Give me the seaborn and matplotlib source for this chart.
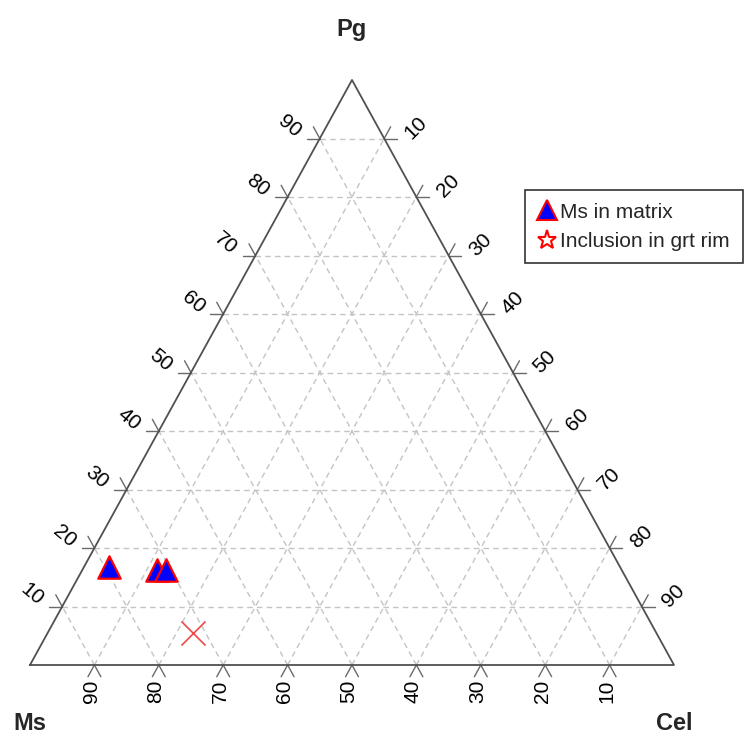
import numpy as np
import pandas as pd
import matplotlib
matplotlib.use('Agg')
import matplotlib.pyplot as plt
import seaborn as sns
from matplotlib.lines import Line2D

sns.set_theme(style='white')
plt.rcParams['font.family'] = ['Liberation Sans', 'DejaVu Sans']

# compositions (fractions)
ms = [0.794, 0.722, 0.708, 0.719]
pg = [0.167, 0.162, 0.162, 0.055]
cel = [0.039, 0.116, 0.130, 0.226]
group = ['Ms in matrix', 'Ms in matrix', 'Ms in matrix', 'Inclusion in grt rim']

ticks = [10, 20, 30, 40, 50, 60, 70, 80, 90]
vertex_labels = ['Ms', 'Pg', 'Cel']
legend_labels = ['Ms in matrix', 'Inclusion in grt rim']

df = pd.DataFrame({'Ms': ms, 'Pg': pg, 'Cel': cel, 'group': group})
# ternary -> cartesian (Ms bottom-left, Cel bottom-right, Pg top)
df['x'] = df['Cel'] + df['Pg'] / 2
df['y'] = df['Pg']


def xy(c, p):
    return c + p / 2, p


# pixel scale of the plotting area (triangle 644 px wide, 585 px tall)
SX, SY = 644.0, 585.0

fig = plt.figure(figsize=(7.52, 7.38), dpi=100)
ax = fig.add_axes([0, 0, 1, 1])
ax.set_xlim(-30 / SX, 722 / SX)
ax.set_ylim(-73 / SY, 665 / SY)
ax.axis('off')

grid_kw = dict(color='#c4c4c4', lw=1.0, ls=(0, (4, 3)), zorder=1)
tick_kw = dict(color='#6a6a6a', lw=1.0, zorder=2)
t = 0.02
for k in ticks:
    f = k / 100
    # Pg = const (horizontal)
    x0, y0 = xy(0, f)
    x1, y1 = xy(1 - f, f)
    ax.plot([x0, x1], [y0, y1], **grid_kw)
    # Cel = const (parallel to left edge)
    x0, y0 = xy(f, 0)
    x1, y1 = xy(f, 1 - f)
    ax.plot([x0, x1], [y0, y1], **grid_kw)
    # Ms = const (parallel to right edge)
    x0, y0 = xy(1 - f, 0)
    x1, y1 = xy(0, 1 - f)
    ax.plot([x0, x1], [y0, y1], **grid_kw)

    # left edge: Pg ticks
    lx, ly = xy(0, f)
    ax.plot([lx, lx - t], [ly, ly], **tick_kw)
    ax.plot([lx, lx - t / 2], [ly, ly + t], **tick_kw)
    ax.text(lx - 30 / SX, ly + 12 / SY, str(k), rotation=-40, ha='center', va='center',
            rotation_mode='anchor', fontsize=15, color='black')

    # right edge: Cel ticks
    rx, ry = xy(f, 1 - f)
    ax.plot([rx, rx + t], [ry, ry], **tick_kw)
    ax.plot([rx, rx + t / 2], [ry, ry + t], **tick_kw)
    ax.text(rx + 32 / SX, ry + 11 / SY, str(k), rotation=45, ha='center', va='center',
            rotation_mode='anchor', fontsize=15, color='black')

    # bottom edge: Ms ticks
    bx, by = xy(1 - f, 0)
    ax.plot([bx, bx + t / 2], [by, by - t], **tick_kw)
    ax.plot([bx, bx - t / 2], [by, by - t], **tick_kw)
    ax.text(bx - 3 / SX, by - 26 / SY, str(k), rotation=90, ha='center', va='center',
            rotation_mode='anchor', fontsize=15, color='black')

# triangle outline
tri = np.array([xy(0, 0), xy(1, 0), xy(0, 1), xy(0, 0)])
ax.plot(tri[:, 0], tri[:, 1], color='#505050', lw=1.3, zorder=3)

# vertex labels
ax.text(0, -65 / SY, vertex_labels[0], ha='center', va='baseline', fontsize=17, fontweight='bold')
ax.text(0.5, 1 + 44 / SY, vertex_labels[1], ha='center', va='baseline', fontsize=17, fontweight='bold')
ax.text(1, -65 / SY, vertex_labels[2], ha='center', va='baseline', fontsize=17, fontweight='bold')

# points
matrix = df[df['group'] == legend_labels[0]]
rim = df[df['group'] == legend_labels[1]]
sns.scatterplot(data=matrix, x='x', y='y', marker='^', s=260, color='#0000ff',
                edgecolor='#ff0000', linewidth=1.6, ax=ax, zorder=5, legend=False)
sns.scatterplot(data=rim, x='x', y='y', marker='x', s=300, color='#f04848',
                linewidth=1.2, ax=ax, zorder=5, legend=False)

handles = [
    Line2D([], [], ls='none', marker='^', ms=14, mfc='#0000ff', mec='#ff0000', mew=1.5),
    Line2D([], [], ls='none', marker='*', ms=14, mfc='white', mec='#ff0000', mew=1.5),
]
leg = ax.legend(handles, legend_labels, loc='upper left',
                bbox_to_anchor=(525 / 752, 1 - 190 / 738), bbox_transform=fig.transFigure,
                fontsize=15, frameon=True, fancybox=False, borderpad=0.6,
                handlelength=0.9, handletextpad=0.2, labelspacing=0.5, borderaxespad=0)
leg.get_frame().set_edgecolor('black')
leg.get_frame().set_linewidth(1.2)

fig.savefig('out.png', dpi=100)
